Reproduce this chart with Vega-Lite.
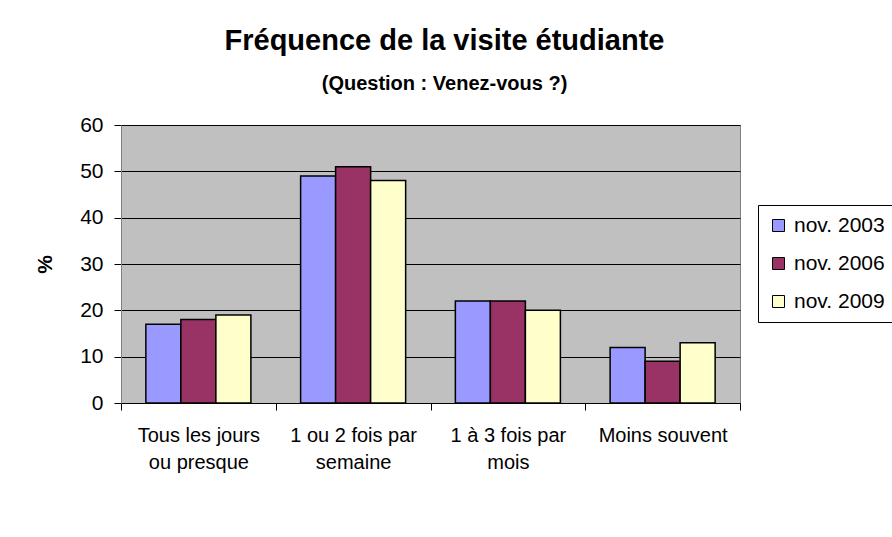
{
  "$schema": "https://vega.github.io/schema/vega-lite/v6.json",
  "autosize": "none",
  "width": 619,
  "height": 278,
  "padding": {"left": 121, "top": 125, "right": 152, "bottom": 134},
  "background": "white",
  "title": {
    "text": "Fréquence de la visite étudiante",
    "subtitle": "(Question : Venez-vous ?)",
    "font": "Liberation Sans",
    "fontSize": 29,
    "fontWeight": "bold",
    "color": "black",
    "subtitleFont": "Liberation Sans",
    "subtitleFontSize": 20,
    "subtitleFontWeight": "bold",
    "subtitleColor": "black",
    "subtitlePadding": 18,
    "anchor": "middle",
    "dx": 14,
    "offset": 20
  },
  "data": {
    "values": [
      {"cat": "Tous les jours ou presque", "year": "nov. 2003", "pct": 17},
      {"cat": "Tous les jours ou presque", "year": "nov. 2006", "pct": 18},
      {"cat": "Tous les jours ou presque", "year": "nov. 2009", "pct": 19},
      {"cat": "1 ou 2 fois par semaine", "year": "nov. 2003", "pct": 49},
      {"cat": "1 ou 2 fois par semaine", "year": "nov. 2006", "pct": 51},
      {"cat": "1 ou 2 fois par semaine", "year": "nov. 2009", "pct": 48},
      {"cat": "1 à 3 fois par mois", "year": "nov. 2003", "pct": 22},
      {"cat": "1 à 3 fois par mois", "year": "nov. 2006", "pct": 22},
      {"cat": "1 à 3 fois par mois", "year": "nov. 2009", "pct": 20},
      {"cat": "Moins souvent", "year": "nov. 2003", "pct": 12},
      {"cat": "Moins souvent", "year": "nov. 2006", "pct": 9},
      {"cat": "Moins souvent", "year": "nov. 2009", "pct": 13}
    ]
  },
  "mark": {"type": "bar", "stroke": "black", "strokeWidth": 1.5},
  "encoding": {
    "x": {
      "field": "cat",
      "type": "nominal",
      "sort": null,
      "scale": {"paddingInner": 0, "paddingOuter": 0},
      "axis": {
        "title": null,
        "labelAngle": 0,
        "labelFont": "Liberation Sans",
        "labelFontSize": 20,
        "labelColor": "black",
        "labelPadding": 15,
        "labelLineHeight": 27,
        "labelBaseline": "top",
        "labelExpr": "datum.label == 'Tous les jours ou presque' ? ['Tous les jours', 'ou presque'] : datum.label == '1 ou 2 fois par semaine' ? ['1 ou 2 fois par', 'semaine'] : datum.label == '1 à 3 fois par mois' ? ['1 à 3 fois par', 'mois'] : datum.label",
        "tickBand": "extent",
        "tickSize": 7,
        "tickColor": "black",
        "domainColor": "black",
        "grid": false
      }
    },
    "xOffset": {"field": "year", "type": "nominal", "scale": {"paddingInner": 0, "paddingOuter": 0.71}},
    "y": {
      "field": "pct",
      "type": "quantitative",
      "scale": {"domain": [0, 60]},
      "axis": {
        "title": "%",
        "titleFont": "Liberation Sans",
        "titleFontSize": 21,
        "titleFontWeight": "bold",
        "titleColor": "black",
        "titlePadding": 24,
        "values": [0, 10, 20, 30, 40, 50, 60],
        "labelFont": "Liberation Sans",
        "labelFontSize": 21,
        "labelColor": "black",
        "labelPadding": 11,
        "tickSize": 7,
        "tickColor": "black",
        "domainColor": "#808080",
        "grid": true,
        "gridColor": "black",
        "gridWidth": 1
      }
    },
    "color": {
      "field": "year",
      "type": "nominal",
      "scale": {"domain": ["nov. 2003", "nov. 2006", "nov. 2009"], "range": ["#9999FF", "#993366", "#FFFFCC"]},
      "legend": {
        "title": null,
        "orient": "none",
        "legendX": 637,
        "legendY": 80,
        "fillColor": "white",
        "strokeColor": "black",
        "padding": 10,
        "rowPadding": 16,
        "symbolType": "square",
        "symbolSize": 144,
        "symbolStrokeColor": "black",
        "symbolStrokeWidth": 1,
        "labelFont": "Liberation Sans",
        "labelFontSize": 21,
        "labelColor": "black",
        "labelOffset": 5
      }
    }
  },
  "config": {
    "view": {"fill": "#C0C0C0", "stroke": "#808080", "strokeWidth": 1}
  }
}
